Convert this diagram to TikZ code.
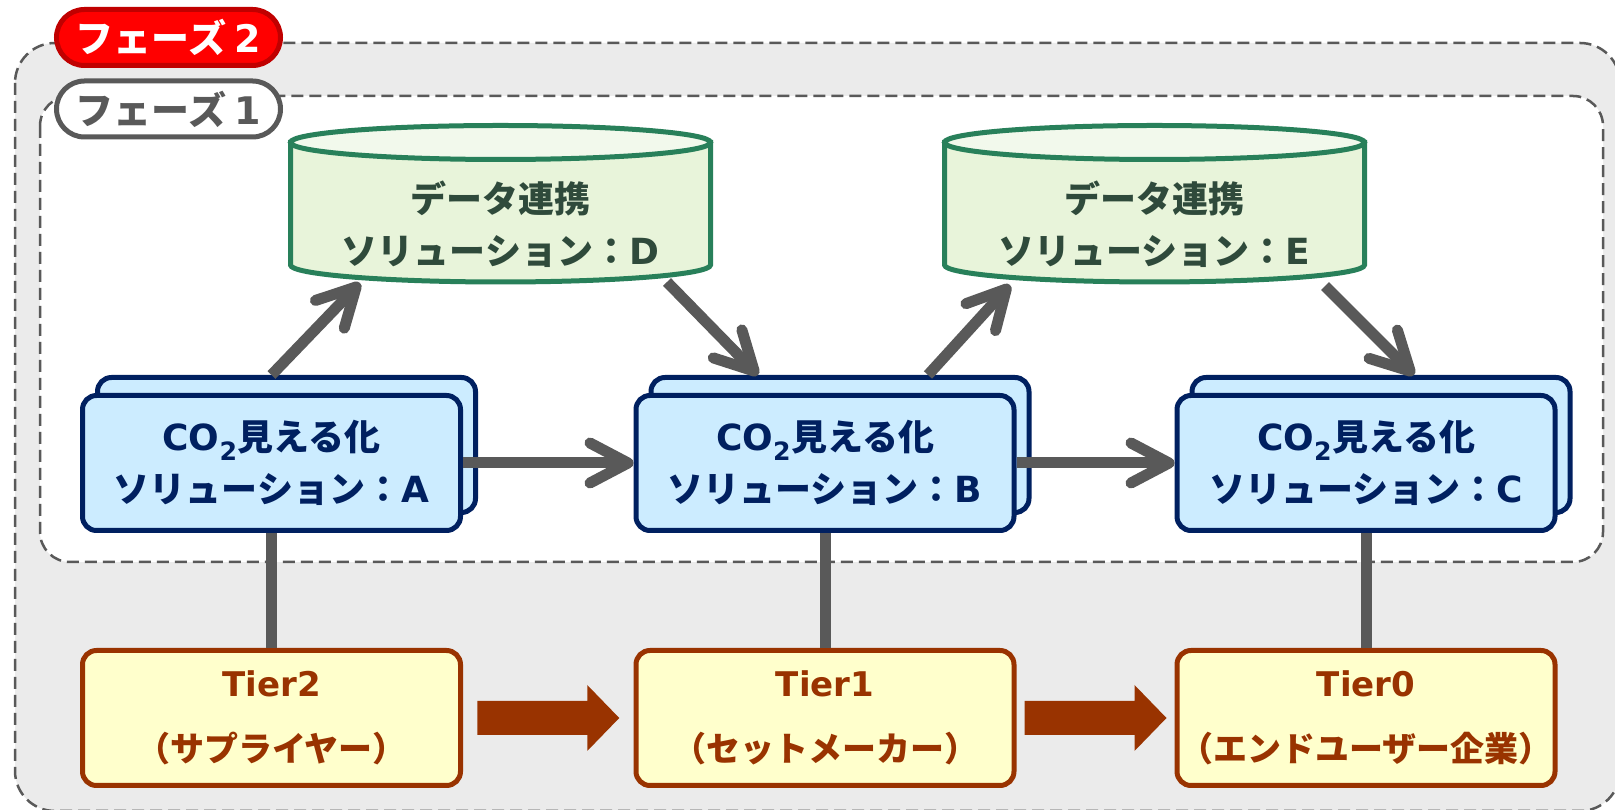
\documentclass[tikz,border=0pt]{standalone}
\usepackage{fontspec}
\setmainfont{Noto Sans CJK JP}
\newfontfamily\latinfont{DejaVu Sans}
\usetikzlibrary{arrows.meta,shadows,positioning,calc}

\definecolor{phaseline}{HTML}{595959}
\definecolor{phasefill}{HTML}{EBEBEB}
\definecolor{phasered}{HTML}{FF0000}
\definecolor{phasereddark}{HTML}{C00000}
\definecolor{solfill}{HTML}{CCECFF}
\definecolor{solline}{HTML}{002060}
\definecolor{tierfill}{HTML}{FFFFCC}
\definecolor{tierline}{HTML}{993300}
\definecolor{cylline}{HTML}{28805A}
\definecolor{cylbody}{HTML}{E8F4DA}
\definecolor{cyltop}{HTML}{F2F9EC}
\definecolor{cyltext}{HTML}{2F4A3B}

% Latin parts of the labels
\newcommand{\lat}[1]{{\latinfont\bfseries #1}}

\tikzset
{
    phasearea/.style = {draw=phaseline, line width=2.5pt, dash pattern=on 12pt off 6pt},
    phasetag/.style = {rounded corners=28pt, line width=5pt, minimum width=224pt,
                          minimum height=56pt, inner sep=0pt,
                          font=\bfseries\fontsize{38}{42}\selectfont},
    solbox/.style = {rounded corners=14pt, draw=solline, fill=solfill, line width=5pt,
                          minimum width=378pt, minimum height=135pt, align=center,
                          inner xsep=0pt, text=solline,
                          font=\bfseries\fontsize{36}{52}\selectfont,
                          copy shadow={shadow xshift=15pt, shadow yshift=18pt,
                                       draw=solline, fill=solfill}},
    tierbox/.style = {rounded corners=14pt, draw=tierline, fill=tierfill, line width=5pt,
                          minimum width=378pt, minimum height=135pt, align=center,
                          inner xsep=0pt, text=tierline,
                          font=\bfseries\fontsize{34}{50}\selectfont},
    cyllabel/.style = {align=center, text=cyltext,
                          font=\bfseries\fontsize{36}{52}\selectfont},
    link/.style = {draw=phaseline, line width=11pt},
    flow/.style = {link, -{Straight Barb[length=38pt, width=40pt, round]}},
    % data store drawn round its centre
    datastore/.pic = {
        \path[draw=cylline, fill=cylbody, line width=5pt]
            (-210,61.25) -- (-210,-61.25)
            arc[start angle=180, end angle=360, x radius=210, y radius=17]
            -- (210,61.25) -- cycle;
        \path[draw=cylline, fill=cyltop, line width=5pt]
            (0,61.25) ellipse [x radius=210, y radius=17];
    },
    % thick hand-over arrow between tiers
    handover/.pic = {
        \fill[tierline] (-71,17) -- (39,17) -- (39,33) -- (71,0)
            -- (39,-33) -- (39,-17) -- (-71,-17) -- cycle;
    }
}

\begin{document}
\begin{tikzpicture}[x=1pt, y=1pt]
    \clip (0,0) rectangle (1615,810);

    % phase areas
    \path[phasearea, fill=phasefill, rounded corners=40pt] (15,767) rectangle (1620,-1);
    \path[phasearea, fill=white, rounded corners=30pt] (40,714) rectangle (1603,248);
    \node[phasetag, draw=phasereddark, fill=phasered, text=white] (P2) at (168.5,772.5) {フェーズ \lat{2}};
    \node[phasetag, draw=phaseline, fill=white, text=phaseline] (P1) at (168.5,701) {フェーズ \lat{1}};

    % data linkage
    \pic at (500.5,606.25) {datastore};
    \node[cyllabel] (D) at (500.5,586) {データ連携\\ソリューション：\lat{D}};
    \pic at (1154.5,606.25) {datastore};
    \node[cyllabel] (E) at (1154.5,586) {データ連携\\ソリューション：\lat{E}};

    % visualisation solutions
    \node[solbox] (A) at (271.5,347) {\lat{CO\textsubscript{2}}見える化\\ソリューション：\lat{A}};
    \node[solbox] (B) at (825,347) {\lat{CO\textsubscript{2}}見える化\\ソリューション：\lat{B}};
    \node[solbox] (C) at (1366,347) {\lat{CO\textsubscript{2}}見える化\\ソリューション：\lat{C}};

    % supply chain tiers
    \node[tierbox, below=115pt of A] (T2) {\lat{Tier2}\\[15pt]（サプライヤー）};
    \node[tierbox, below=115pt of B] (T1) {\lat{Tier1}\\[15pt]（セットメーカー）};
    \node[tierbox, below=115pt of C] (T0) {\lat{Tier0}\\[15pt]（エンドユーザー企業）};

    \draw[link] (A.south) -- (T2.north);
    \draw[link] (B.south) -- (T1.north);
    \draw[link] (C.south) -- (T0.north);

    \draw[flow] (A.east) -- (B.west);
    \draw[flow] (B.east) -- (C.west);
    \draw[flow] ([yshift=18pt]A.north) -- ($(D)+(-140.5,-59)$);
    \draw[flow] ($(D)+(166.5,-58)$) -- ([xshift=-67pt,yshift=18pt]B.north);
    \draw[flow] ([xshift=103pt,yshift=18pt]B.north) -- ($(E)+(-144.5,-61)$);
    \draw[flow] ($(E)+(170.5,-62)$) -- ([xshift=48pt,yshift=18pt]C.north);

    \pic at ($(T2.east)!0.5!(T1.west)$) {handover};
    \pic at ($(T1.east)!0.5!(T0.west)$) {handover};
\end{tikzpicture}
\end{document}
